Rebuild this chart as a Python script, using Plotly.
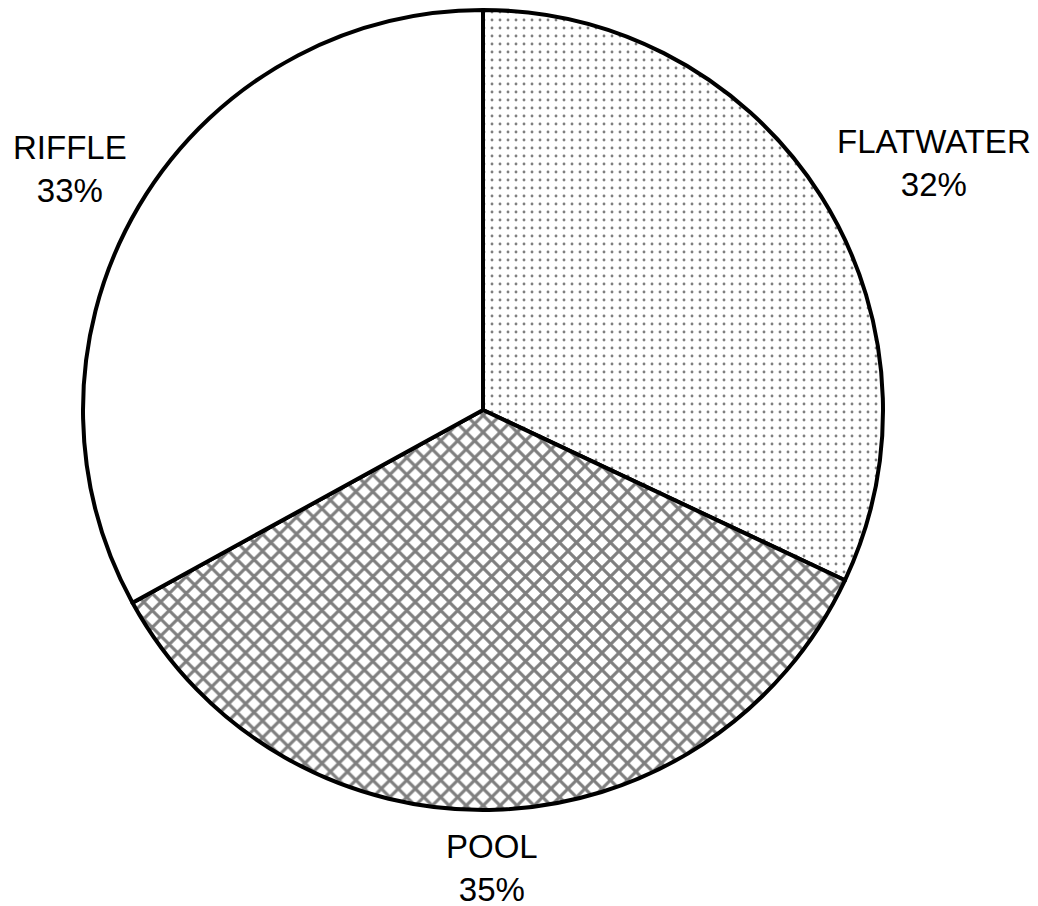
import plotly.graph_objects as go

labels = ["FLATWATER", "POOL", "RIFFLE"]
values = [32, 35, 33]
shapes = [".", "x", ""]
# label centres in screenshot pixels
label_px = [(934, 163), (492, 868), (70, 169)]

W, H = 1038, 906
OFF = 8  # default body margin of the html page

def px_x(x):
    return (x - OFF) / W

def px_y(y):
    return 1 - (y - OFF) / H

cx, cy, r = 483, 410, 400

fig = go.Figure(go.Pie(
    labels=labels,
    values=values,
    sort=False,
    direction="clockwise",
    rotation=0,
    textinfo="none",
    domain=dict(x=[px_x(cx - r), px_x(cx + r)], y=[px_y(cy + r), px_y(cy - r)]),
    marker=dict(
        colors=["white", "white", "white"],
        line=dict(color="black", width=4),
        pattern=dict(shape=shapes, fgcolor="black", bgcolor="white",
                     size=[8, 12, 8], solidity=[0.1, 0.45, 0.1], fillmode="overlay"),
    ),
    hoverinfo="skip",
    showlegend=False,
))

total = sum(values)
for lab, val, (x, y) in zip(labels, values, label_px):
    fig.add_annotation(
        x=px_x(x), y=px_y(y), xref="paper", yref="paper",
        text=f"{lab}<br>{round(val / total * 100)}%",
        showarrow=False, xanchor="center", yanchor="middle", align="center",
        font=dict(family="Liberation Sans, Arial, sans-serif", size=33, color="black"),
    )

fig.update_layout(
    width=W, height=H,
    margin=dict(l=0, r=0, t=0, b=0),
    paper_bgcolor="white",
    plot_bgcolor="white",
)

fig.write_html("out.html")
